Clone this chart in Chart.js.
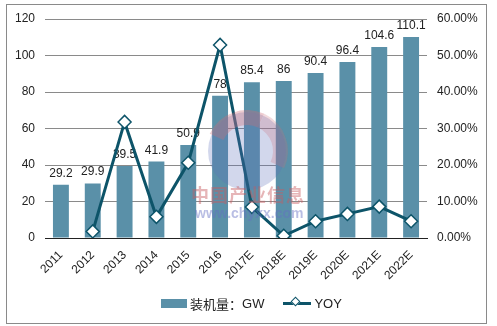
<!DOCTYPE html>
<html>
<head>
<meta charset="utf-8">
<script src="https://cdn.jsdelivr.net/npm/chart.js@4.4.1/dist/chart.umd.min.js"></script>
<style>
  body { margin: 0; background: #fff; }
  #wrap { position: relative; width: 497px; height: 326px; }
  #frame { position: absolute; left: 6px; top: 4px; width: 481px; height: 320px; border: 1px solid #8a8a8a; box-sizing: border-box; pointer-events: none; }
  #legend { position: absolute; top: 294px; left: 161px; font: 13px "Liberation Sans", "Noto Sans CJK SC", sans-serif; color: #222; display: flex; align-items: center; white-space: nowrap; }
  #legend .box { display: inline-block; width: 26px; height: 9px; background: #5a90a8; margin-right: 3px; }
  #legend .ln { position: relative; display: inline-block; width: 28px; height: 3px; background: #0d5469; margin: 0 3px 0 19px; }
  #legend .ln i { position: absolute; left: 9px; top: -4px; width: 7px; height: 7px; background: #fff; border: 1.5px solid #0d5469; transform: rotate(45deg); box-sizing: border-box; }
  #legend .cjk { font-family: "Noto Sans CJK SC", sans-serif; }
  .wm { position: absolute; pointer-events: none; }
</style>
</head>
<body>
<div id="wrap">
  <canvas id="chart" width="497" height="326"></canvas>
  <div class="wm" style="left:208px;top:112px;width:78px;height:78px;border-radius:50%;background:rgba(95,110,185,0.28);"></div>
  <div class="wm" style="left:206px;top:110px;width:82px;height:82px;border-radius:50%;box-sizing:border-box;border:15px solid transparent;border-top-color:rgba(205,110,120,0.35);border-right-color:rgba(205,110,120,0.25);transform:rotate(-20deg);"></div>
  <div class="wm" style="left:191px;top:181px;font:bold 18px 'Noto Sans CJK SC';color:rgba(200,90,95,0.45);letter-spacing:1px;">中国产业信息</div>
  <div class="wm" style="left:195px;top:205px;font:bold 14px 'Liberation Sans';color:rgba(100,110,195,0.45);">www.chyxx.com</div>
  <div id="frame"></div>
  <div id="legend"><span class="box"></span><span class="cjk">装机量：</span>GW<span class="ln"><i></i></span>YOY</div>
</div>
<script>
const years = ['2011', '2012', '2013', '2014', '2015', '2016', '2017E', '2018E', '2019E', '2020E', '2021E', '2022E'];
const capacity = [29.2, 29.9, 39.5, 41.9, 50.9, 78, 85.4, 86, 90.4, 96.4, 104.6, 110.1];
const yoy = [null, 1.8, 31.8, 5.8, 20.6, 52.9, 8.5, 0.6, 4.6, 6.6, 8.6, 4.6];
const leftTicks = [0, 20, 40, 60, 80, 100, 120];
const rightTicks = [0, 10, 20, 30, 40, 50, 60];

const BAR_COLOR = '#5a90a8';
const LINE_COLOR = '#0d5469';
const FONT = "'Liberation Sans', Arial, sans-serif";

// value labels above bars, drawn before the line so the line passes over them
const barLabels = {
  id: 'barLabels',
  afterDatasetDraw(chart, args) {
    if (args.index !== 0) return;
    const ctx = chart.ctx;
    ctx.save();
    ctx.font = '12px ' + FONT;
    ctx.fillStyle = '#222';
    ctx.textAlign = 'center';
    ctx.textBaseline = 'alphabetic';
    args.meta.data.forEach((bar, i) => {
      ctx.fillText(String(capacity[i]), bar.x, bar.y - 8);
    });
    ctx.restore();
  }
};

new Chart(document.getElementById('chart'), {
  type: 'bar',
  data: {
    labels: years,
    datasets: [
      { type: 'bar', label: '装机量：GW', data: capacity, backgroundColor: BAR_COLOR, yAxisID: 'y',
        barPercentage: 0.5, categoryPercentage: 1, order: 2 },
      { type: 'line', label: 'YOY', data: yoy, yAxisID: 'y1', borderColor: LINE_COLOR, borderWidth: 3,
        tension: 0, pointStyle: 'rectRot', pointRadius: 6.5, pointBackgroundColor: '#fff',
        pointBorderColor: LINE_COLOR, pointBorderWidth: 1.5, order: 1 }
    ]
  },
  options: {
    responsive: false,
    animation: false,
    layout: { padding: { top: 19, left: 0, right: 0, bottom: 0 } },
    plugins: { legend: { display: false }, tooltip: { enabled: false } },
    scales: {
      x: {
        grid: { display: false },
        border: { color: '#222', width: 1 },
        ticks: { color: '#222', font: { size: 12, family: FONT }, minRotation: 45, maxRotation: 45, padding: 2 },
        afterFit: s => { s.height = 88; }
      },
      y: {
        position: 'left',
        min: leftTicks[0], max: leftTicks[leftTicks.length - 1],
        afterBuildTicks: s => { s.ticks = leftTicks.map(v => ({ value: v })); },
        grid: { color: c => c.tick.value === 0 ? 'rgba(0,0,0,0)' : '#8a8a8a', drawTicks: false },
        border: { display: false },
        ticks: { color: '#222', font: { size: 12, family: FONT }, padding: 10 },
        afterFit: s => { s.width = 45; }
      },
      y1: {
        position: 'right',
        min: rightTicks[0], max: rightTicks[rightTicks.length - 1],
        afterBuildTicks: s => { s.ticks = rightTicks.map(v => ({ value: v })); },
        grid: { drawOnChartArea: false, drawTicks: false },
        border: { display: false },
        ticks: { color: '#222', font: { size: 12, family: FONT }, padding: 10, callback: v => v.toFixed(2) + '%' },
        afterFit: s => { s.width = 70; }
      }
    }
  },
  plugins: [barLabels]
});
</script>
</body>
</html>
